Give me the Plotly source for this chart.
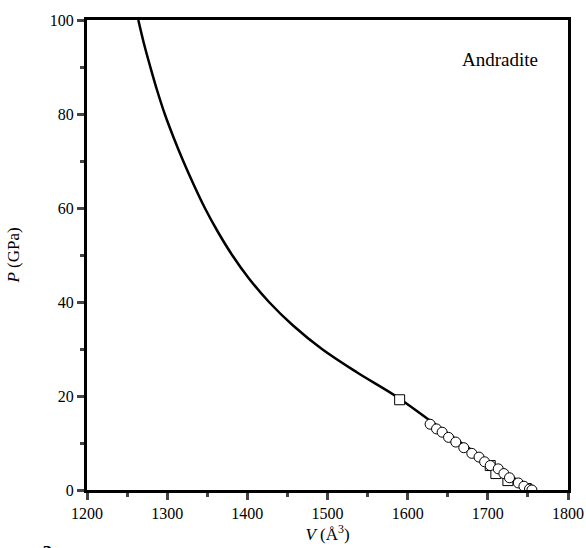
import plotly.graph_objects as go

# Fitted EOS curve
curve_v = [1264, 1271, 1279, 1287.5, 1297, 1308, 1320, 1333, 1347, 1363, 1381,
           1402, 1427, 1457, 1493, 1537, 1585, 1626, 1667, 1711, 1755]
curve_p = [100, 95, 90, 85, 80, 75, 70, 65, 60, 55, 50,
           45, 40, 35, 30, 25, 20, 15, 10, 5, 0]

# Squares
sq_v = [1590, 1703, 1710, 1725, 1748]
sq_p = [19.2, 5.2, 3.5, 2.0, 0.3]

# Circles
ci_v = [1628, 1636, 1643, 1651, 1660, 1670, 1680, 1689, 1696, 1703, 1713, 1720, 1727, 1738, 1745, 1752, 1755]
ci_p = [14, 13, 12.3, 11.2, 10.2, 9, 7.8, 7, 6, 5.2, 4.5, 3.5, 2.6, 1.5, 0.8, 0.2, 0]

x_ticks = [1200, 1300, 1400, 1500, 1600, 1700, 1800]
y_ticks = [0, 20, 40, 60, 80, 100]

FONT = "Liberation Serif"

fig = go.Figure()
fig.add_trace(go.Scatter(x=curve_v, y=curve_p, mode="lines",
                         line=dict(color="black", width=2.5, shape="spline", smoothing=1.0),
                         showlegend=False, hoverinfo="skip"))
fig.add_trace(go.Scatter(x=sq_v, y=sq_p, mode="markers",
                         marker=dict(symbol="square", size=10, color="white",
                                     line=dict(color="black", width=1)),
                         showlegend=False))
fig.add_trace(go.Scatter(x=ci_v, y=ci_p, mode="markers",
                         marker=dict(symbol="circle", size=10, color="white",
                                     line=dict(color="black", width=1)),
                         showlegend=False))

fig.update_layout(
    width=586, height=548,
    margin=dict(l=87, r=18, t=20, b=58),
    paper_bgcolor="white", plot_bgcolor="white",
    font=dict(family=FONT, size=16, color="black"),
    xaxis=dict(range=[1200, 1800], tickvals=x_ticks, ticks="outside", ticklen=7,
               tickwidth=2.5, linewidth=3, linecolor="black", mirror=True,
               showgrid=False, zeroline=False, automargin=False,
               minor=dict(dtick=50, ticks="outside", ticklen=4, tickwidth=2.5, showgrid=False),
               title=dict(text="<i>V</i> (Å<sup>3</sup>)", font=dict(size=17), standoff=4),
               tickfont=dict(size=16)),
    yaxis=dict(range=[0, 100], tickvals=y_ticks, ticks="outside", ticklen=7,
               tickwidth=2.5, linewidth=3, linecolor="black", mirror=True,
               showgrid=False, zeroline=False, automargin=False,
               minor=dict(dtick=10, ticks="outside", ticklen=4, tickwidth=2.5, showgrid=False),
               title=dict(text="<i>P</i> (GPa)", font=dict(size=17), standoff=26),
               tickfont=dict(size=16)),
    annotations=[
        dict(text="Andradite", x=0.859, y=0.915, xref="paper", yref="paper",
             xanchor="center", yanchor="middle",
             showarrow=False, font=dict(size=19, family=FONT)),
        dict(text="<b>a</b>", x=-0.098, y=-0.098, xref="paper", yref="paper",
             xanchor="left", yanchor="top", showarrow=False, font=dict(size=20, family=FONT)),
    ],
)

fig.write_html("out.html", config={"displayModeBar": False},
               post_script="document.body.style.margin='0';document.body.style.overflow='hidden';")
